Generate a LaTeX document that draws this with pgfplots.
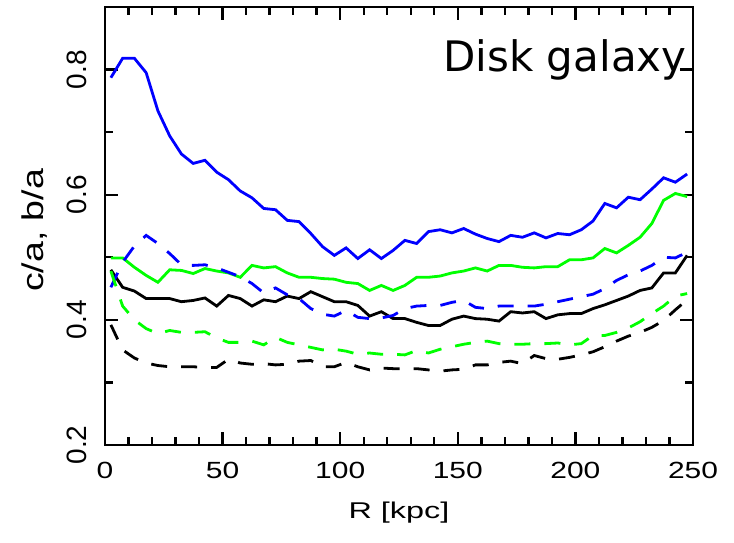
\documentclass[border=0pt]{standalone}
\usepackage{fontspec}
\setmainfont{Liberation Sans}
\newfontfamily\djv{DejaVu Sans}
\newfontfamily\xtf[FakeStretch=1.28]{Liberation Sans}
\newfontfamily\xlf[FakeStretch=1.42]{Liberation Sans}
\newfontfamily\ylf[FakeStretch=1.25]{Liberation Sans}
\usepackage{pgfplots}
\usepackage{pgfplotstable}
\pgfplotsset{compat=1.18}
\definecolor{pblue}{RGB}{0,0,255}
\definecolor{pgreen}{RGB}{0,255,0}

\pgfplotstableread{
R     bs    gs    ks    bd    gd    kd
2.5   0.787 0.499 0.480 0.452 0.478 0.392
7.5   0.818 0.499 0.452 0.492 0.422 0.352
12.5  0.818 0.484 0.446 0.518 0.400 0.339
17.5  0.795 0.471 0.434 0.535 0.386 0.331
22.5  0.734 0.460 0.434 0.522 0.378 0.327
27.5  0.694 0.480 0.434 0.506 0.383 0.325
32.5  0.665 0.479 0.429 0.488 0.380 0.325
37.5  0.650 0.474 0.431 0.487 0.380 0.325
42.5  0.655 0.482 0.435 0.488 0.381 0.324
47.5  0.636 0.478 0.422 0.483 0.371 0.324
52.5  0.624 0.475 0.439 0.476 0.364 0.337
57.5  0.606 0.468 0.434 0.469 0.364 0.331
62.5  0.595 0.487 0.422 0.458 0.366 0.329
67.5  0.578 0.483 0.432 0.443 0.360 0.330
72.5  0.576 0.485 0.429 0.451 0.372 0.328
77.5  0.559 0.475 0.438 0.440 0.364 0.329
82.5  0.557 0.468 0.434 0.434 0.360 0.334
87.5  0.538 0.468 0.445 0.418 0.356 0.335
92.5  0.517 0.466 0.437 0.409 0.352 0.325
97.5  0.503 0.465 0.429 0.406 0.353 0.325
102.5 0.515 0.460 0.429 0.415 0.350 0.332
107.5 0.498 0.458 0.423 0.404 0.345 0.325
112.5 0.512 0.447 0.406 0.402 0.347 0.320
117.5 0.498 0.455 0.413 0.403 0.345 0.323
122.5 0.511 0.447 0.402 0.407 0.345 0.322
127.5 0.527 0.455 0.402 0.418 0.344 0.322
132.5 0.522 0.468 0.396 0.422 0.351 0.322
137.5 0.541 0.468 0.391 0.423 0.347 0.320
142.5 0.544 0.470 0.391 0.423 0.353 0.318
147.5 0.539 0.475 0.401 0.428 0.357 0.320
152.5 0.546 0.478 0.406 0.431 0.361 0.321
157.5 0.537 0.483 0.402 0.420 0.364 0.328
162.5 0.530 0.478 0.401 0.418 0.366 0.328
167.5 0.525 0.487 0.398 0.422 0.362 0.332
172.5 0.535 0.487 0.413 0.422 0.361 0.334
177.5 0.532 0.484 0.411 0.422 0.361 0.330
182.5 0.539 0.483 0.413 0.422 0.362 0.343
187.5 0.531 0.485 0.402 0.425 0.362 0.338
192.5 0.538 0.485 0.408 0.429 0.363 0.337
197.5 0.536 0.496 0.410 0.433 0.360 0.340
202.5 0.544 0.496 0.410 0.437 0.362 0.344
207.5 0.558 0.499 0.418 0.441 0.375 0.349
212.5 0.586 0.514 0.424 0.450 0.375 0.357
217.5 0.579 0.507 0.431 0.463 0.380 0.366
222.5 0.596 0.519 0.438 0.472 0.387 0.374
227.5 0.592 0.532 0.447 0.478 0.397 0.380
232.5 0.609 0.554 0.451 0.487 0.410 0.388
237.5 0.627 0.591 0.475 0.500 0.422 0.399
242.5 0.620 0.602 0.475 0.499 0.438 0.416
247.5 0.633 0.597 0.503 0.508 0.442 0.432
}\data

\begin{document}
\begin{tikzpicture}
\begin{axis}[
  scale only axis,
  width=294pt, height=219pt,
  xmin=0, xmax=250, ymin=0.2, ymax=0.9,
  axis line style={line width=1.2pt},
  every tick/.style={black, line width=1.2pt},
  tick align=inside,
  xtick={0,50,100,150,200,250},
  minor x tick num=4,
  ytick={0.2,0.4,0.6,0.8},
  yticklabels={0.2,0.4,0.6,0.8},
  minor ytick={0.3,0.5,0.7},
  major tick length=6.5pt,
  minor tick length=4pt,
  /pgf/number format/assume math mode=true,
  xticklabel style={anchor=north, inner sep=0pt, font=\xtf\fontsize{11.7}{14}\selectfont},
  xticklabel shift=8.3pt,
  yticklabel style={rotate=90, anchor=south, inner sep=0pt, font=\fontsize{14}{16}\selectfont},
  yticklabel shift=9pt,
  xlabel={R [kpc]},
  ylabel={c/a, b/a},
  xlabel style={at={(axis description cs:0.5,-0.155)}, anchor=center, font=\xlf\fontsize{11.4}{14}\selectfont},
  ylabel style={at={(axis description cs:-0.119,0.49)}, anchor=center, font=\ylf\fontsize{15}{18}\selectfont},
  clip=true,
]
\addplot[pblue, line width=1.4pt] table[x=R, y=bs] {\data};
\addplot[pgreen, line width=1.4pt] table[x=R, y=gs] {\data};
\addplot[black, line width=1.4pt] table[x=R, y=ks] {\data};
\addplot[pblue, line width=1.4pt, dash pattern=on 8pt off 7pt] table[x=R, y=bd] {\data};
\addplot[pgreen, line width=1.4pt, dash pattern=on 8pt off 7pt] table[x=R, y=gd] {\data};
\addplot[black, line width=1.4pt, dash pattern=on 8pt off 7pt] table[x=R, y=kd] {\data};
\node[anchor=base west, inner sep=0pt, font=\djv\fontsize{21}{25}\selectfont]
  at (rel axis cs:0.5748,0.8523) {Disk galaxy};
\end{axis}
\pgfresetboundingbox
\useasboundingbox ([shift={(-52.5pt,-49pt)}]current axis.south west) rectangle ([shift={(20.5pt,3.5pt)}]current axis.north east);
\end{tikzpicture}
\end{document}
